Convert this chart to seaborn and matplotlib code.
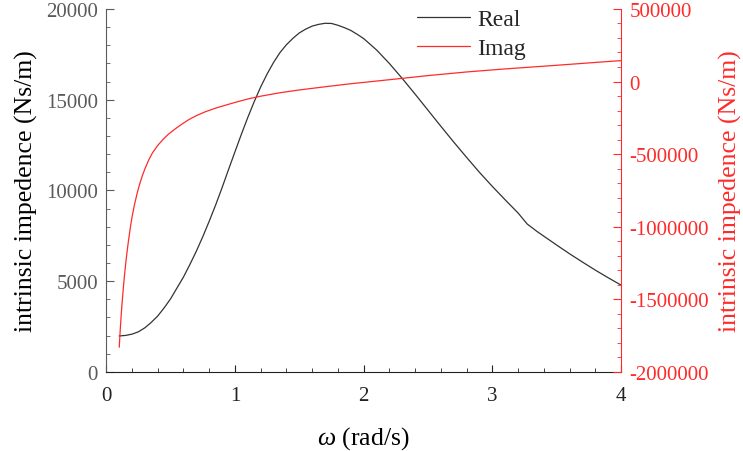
import matplotlib
matplotlib.use("Agg")
import matplotlib.pyplot as plt
from matplotlib.ticker import MultipleLocator, FuncFormatter
import pandas as pd
import seaborn as sns

# Real part of the intrinsic impedance (Ns/m) vs angular frequency
omega_real = [0.10, 0.15, 0.20, 0.25, 0.30, 0.35, 0.40, 0.45, 0.50, 0.55, 0.60,
              0.65, 0.70, 0.75, 0.80, 0.85, 0.90, 0.95, 1.00, 1.05, 1.10, 1.15,
              1.20, 1.25, 1.30, 1.35, 1.40, 1.45, 1.50, 1.55, 1.60, 1.65, 1.70,
              1.75, 1.80, 1.85, 1.90, 1.95, 2.00, 2.10, 2.20, 2.30, 2.40, 2.50,
              2.60, 2.70, 2.80, 2.90, 3.00, 3.10, 3.20, 3.27, 3.35, 3.45, 3.50,
              3.60, 3.70, 3.80, 3.90, 4.00]
real_vals = [1980, 2010, 2080, 2210, 2430, 2730, 3080, 3530, 4030, 4630, 5230,
             5920, 6655, 7450, 8305, 9200, 10155, 11150, 12130, 13100, 14030,
             14900, 15705, 16420, 17055, 17600, 18030, 18380, 18680, 18890,
             19055, 19150, 19210, 19200, 19100, 18970, 18815, 18600, 18365,
             17740, 16990, 16165, 15300, 14415, 13530, 12660, 11815, 10990,
             10215, 9475, 8750, 8150, 7720, 7230, 6985, 6505, 6050, 5605, 5185,
             4780]

# Imaginary part of the intrinsic impedance (Ns/m)
omega_imag = [0.101, 0.11, 0.12, 0.13, 0.14, 0.15, 0.16, 0.17, 0.18, 0.19, 0.20,
              0.22, 0.24, 0.26, 0.28, 0.30, 0.33, 0.36, 0.40, 0.44, 0.48, 0.53,
              0.58, 0.64, 0.70, 0.77, 0.85, 0.93, 1.00, 1.10, 1.20, 1.35, 1.50,
              1.70, 1.90, 2.00, 2.30, 2.50, 2.80, 3.10, 3.50, 3.90, 4.00]
imag_vals = [-1830000, -1690000, -1560000, -1450000, -1350000, -1262000,
             -1185000, -1115000, -1050000, -990000, -935000, -845000, -770000,
             -705000, -650000, -602000, -540000, -490000, -440000, -400000,
             -365000, -330000, -298000, -263000, -235000, -208000, -183000,
             -162000, -144000, -120000, -101000, -77000, -58000, -36000,
             -15000, -6000, 22000, 41000, 66000, 87000, 112000, 138000, 144000]

x_ticks = [0, 1, 2, 3, 4]
left_ticks = [0, 5000, 10000, 15000, 20000]
right_ticks = [-2000000, -1500000, -1000000, -500000, 0, 500000]

df_real = pd.DataFrame({"omega": omega_real, "value": real_vals})
df_imag = pd.DataFrame({"omega": omega_imag, "value": imag_vals})

sns.set_style("ticks")
plt.rcParams["font.family"] = ["Liberation Serif", "DejaVu Serif"]
plt.rcParams["mathtext.fontset"] = "custom"
plt.rcParams["mathtext.it"] = "Liberation Serif:italic"
plt.rcParams["mathtext.rm"] = "Liberation Serif"

RED = "#ff2a2a"
GRAY = "#5a5a5a"
TICK_FS = 15
LABEL_FS = 18.5

fig, ax = plt.subplots(figsize=(7.43, 4.52), dpi=100)
fig.subplots_adjust(left=0.143, right=0.836, top=0.978, bottom=0.175)
ax2 = ax.twinx()

sns.lineplot(data=df_real, x="omega", y="value", ax=ax, color="#333333",
             linewidth=0.9, label="Real", legend=False)
sns.lineplot(data=df_imag, x="omega", y="value", ax=ax2, color=RED,
             linewidth=0.9, label="Imag", legend=False)

ax.set_xlim(0, 4)
ax.set_ylim(0, 20000)
ax2.set_ylim(-2000000, 500000)

ax.set_xticks(x_ticks)
ax.set_yticks(left_ticks)
ax2.set_yticks(right_ticks)
ax.xaxis.set_minor_locator(MultipleLocator(0.2))
ax.yaxis.set_minor_locator(MultipleLocator(1000))
ax2.yaxis.set_minor_locator(MultipleLocator(100000))

ax.set_xlabel(r"$\omega$ (rad/s)", fontsize=LABEL_FS, color="black", labelpad=14)
ax.set_ylabel("intrinsic impedence (Ns/m)", fontsize=LABEL_FS, color="black",
              labelpad=6)
ax2.set_ylabel("intrinsic impedence (Ns/m)", fontsize=LABEL_FS, color=RED,
               labelpad=7)

for a in (ax, ax2):
    a.spines["top"].set_visible(False)

ax.spines["left"].set_color(GRAY)
ax.spines["bottom"].set_color("#222222")
ax.spines["right"].set_visible(False)
ax2.spines["left"].set_visible(False)
ax2.spines["bottom"].set_visible(False)
ax2.spines["right"].set_color(RED)

ax.tick_params(axis="x", which="both", direction="in", colors="#222222",
               labelsize=TICK_FS, pad=10)
ax.tick_params(axis="x", which="major", length=5)
ax.tick_params(axis="x", which="minor", length=3)
ax.tick_params(axis="y", which="both", direction="in", colors=GRAY,
               labelcolor=GRAY, labelsize=TICK_FS, pad=6)
ax.tick_params(axis="y", which="major", length=6)
ax.tick_params(axis="y", which="minor", length=3)
ax2.tick_params(axis="y", which="both", direction="in", colors=RED,
                labelsize=TICK_FS, pad=6)
ax2.tick_params(axis="y", which="major", length=6)
ax2.tick_params(axis="y", which="minor", length=3)

int_fmt = FuncFormatter(lambda v, p: f"{int(v)}")
ax.yaxis.set_major_formatter(int_fmt)
ax2.yaxis.set_major_formatter(int_fmt)

h1, l1 = ax.get_legend_handles_labels()
h2, l2 = ax2.get_legend_handles_labels()
ax.legend(h1 + h2, l1 + l2, loc="upper left", bbox_to_anchor=(0.604, 1.0),
          frameon=False, fontsize=17, handlelength=2.25, handletextpad=0.3,
          labelspacing=0.3, borderpad=0, borderaxespad=0)

fig.savefig("out.png", dpi=100)
